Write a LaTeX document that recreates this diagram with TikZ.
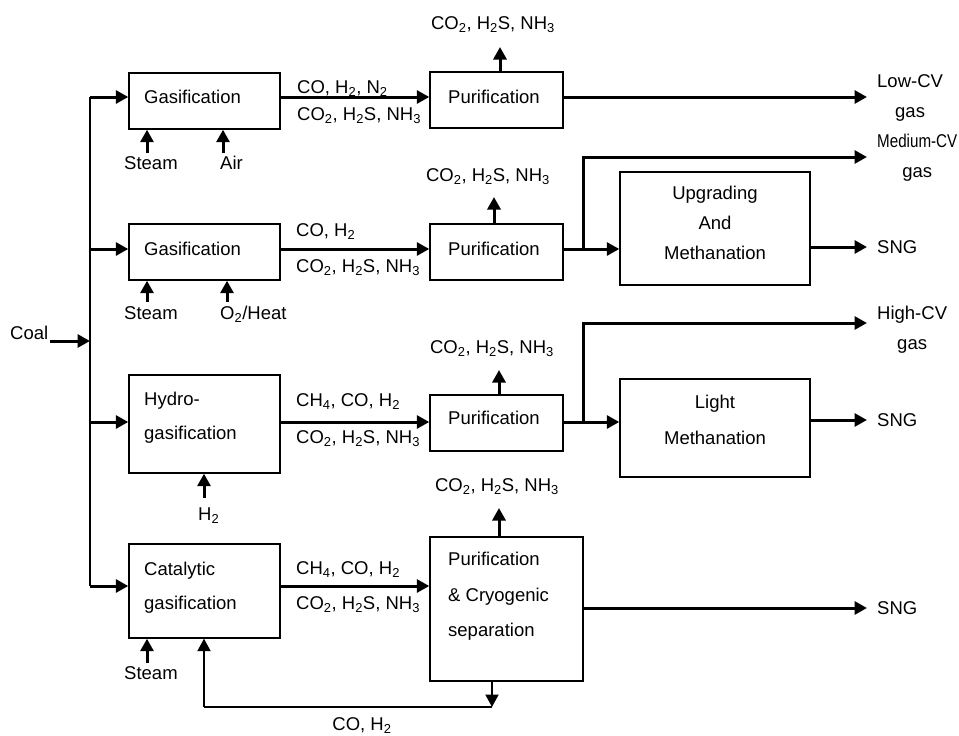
\documentclass[tikz,border=0pt]{standalone}
\usepackage{fontspec}
\setmainfont{Liberation Sans}
\usetikzlibrary{arrows.meta}
\newcommand{\gsub}[1]{\textsubscript{#1}}
\tikzset{
  box/.style={draw,line width=1.4pt,inner sep=0pt},
  txt/.style={inner sep=0pt,font=\fontsize{18.5}{30}\selectfont},
  outl/.style={txt,inner xsep=10pt,align=center},
  flow/.style={line width=3pt,-{Triangle[length=12.5pt,width=13pt]}},
  feed/.style={line width=1.5pt},
}
\begin{document}
\begin{tikzpicture}[x=1pt,y=-1pt,line join=miter]
  \useasboundingbox (0,0) rectangle (959,736);
  % process units
  \node[box,minimum width=151pt,minimum height=56pt] (gasA) at (204.5,101) {};
  \node[box,minimum width=151pt,minimum height=56pt] (gasB) at (204.5,252) {};
  \node[box,minimum width=151pt,minimum height=98pt] (hydG) at (204.5,424) {};
  \node[box,minimum width=151pt,minimum height=94pt] (catG) at (204.5,591) {};
  \node[box,minimum width=133pt,minimum height=56pt] (purA) at (496.5,100) {};
  \node[box,minimum width=133pt,minimum height=56pt] (purB) at (496.5,252) {};
  \node[box,minimum width=133pt,minimum height=56pt] (purC) at (496.5,423) {};
  \node[box,minimum width=153pt,minimum height=144pt] (purD) at (506.5,609) {};
  \node[box,minimum width=190pt,minimum height=113pt] (upg) at (715,228.5) {};
  \node[box,minimum width=190pt,minimum height=98pt] (light) at (715,428) {};
  % unit texts
  \node[txt,anchor=north west] at (144,90.3) {Gasification};
  \node[txt,anchor=north west] at (144,242.3) {Gasification};
  \node[txt,anchor=north west,align=left] at (144,392.3) {Hydro-\\[4pt]gasification};
  \node[txt,anchor=north west,align=left] at (144,562.3) {Catalytic\\[4pt]gasification};
  \node[txt,anchor=north west] at (448,90.3) {Purification};
  \node[txt,anchor=north west] at (448,242.3) {Purification};
  \node[txt,anchor=north west] at (448,411.3) {Purification};
  \node[txt,anchor=north west,align=left] at (448,552.3) {Purification\\[5.5pt]\& Cryogenic\\[5.5pt]separation};
  \node[txt,anchor=north,align=center] at (715,186.3) {Upgrading\\And\\Methanation};
  \node[txt,anchor=north,align=center] at (715,395.3) {Light\\[6pt]Methanation};
  % coal feed
  \coordinate (hub) at (90,341);
  \coordinate (tA) at (90,97);
  \coordinate (tB) at (90,249);
  \coordinate (tC) at (90,422);
  \coordinate (tD) at (90,586);
  \node[txt,inner xsep=2pt,anchor=north west] (coal) at (8,326.3) {Coal};
  \draw[flow] (hub -| coal.east) -- (hub);
  \draw[feed] (tA) -- (tD);
  \draw[flow] (tA) -- (tA -| gasA.west);
  \draw[flow] (tB) -- (tB -| gasB.west);
  \draw[flow] (tC) -- (tC -| hydG.west);
  \draw[flow] (tD) -- (tD -| catG.west);
  % gasifier inputs
  \coordinate (sA) at (147,153);
  \coordinate (aA) at (223,153);
  \coordinate (sB) at (147,302);
  \coordinate (xB) at (227,302);
  \coordinate (hG) at (204,498);
  \coordinate (sD) at (147,663);
  \draw[flow] (sA) -- (sA |- gasA.south);
  \draw[flow] (aA) -- (aA |- gasA.south);
  \draw[flow] (sB) -- (sB |- gasB.south);
  \draw[flow] (xB) -- (xB |- gasB.south);
  \draw[flow] (hG) -- (hG |- hydG.south);
  \draw[flow] (sD) -- (sD |- catG.south);
  \node[txt,anchor=north west] at (124,156.3) {Steam};
  \node[txt,anchor=north west] at (220,156.3) {Air};
  \node[txt,anchor=north west] at (124,306.3) {Steam};
  \node[txt,anchor=north west] at (220,306.3) {O\gsub{2}/Heat};
  \node[txt,anchor=north west] at (198,507.3) {H\gsub{2}};
  \node[txt,anchor=north west] at (124,666.3) {Steam};
  % raw gas streams
  \draw[flow] (tA -| gasA.east) -- (tA -| purA.west);
  \draw[flow] (tB -| gasB.east) -- (tB -| purB.west);
  \draw[flow] (tC -| hydG.east) -- (tC -| purC.west);
  \draw[flow] (tD -| catG.east) -- (tD -| purD.west);
  \node[txt,anchor=north west] at (297,80.3) {CO, H\gsub{2}, N\gsub{2}};
  \node[txt,anchor=north west] at (297,107.3) {CO\gsub{2}, H\gsub{2}S, NH\gsub{3}};
  \node[txt,anchor=north west] at (296,223.3) {CO, H\gsub{2}};
  \node[txt,anchor=north west] at (296,259.3) {CO\gsub{2}, H\gsub{2}S, NH\gsub{3}};
  \node[txt,anchor=north west] at (296,393.3) {CH\gsub{4}, CO, H\gsub{2}};
  \node[txt,anchor=north west] at (296,430.3) {CO\gsub{2}, H\gsub{2}S, NH\gsub{3}};
  \node[txt,anchor=north west] at (296,561.3) {CH\gsub{4}, CO, H\gsub{2}};
  \node[txt,anchor=north west] at (296,596.3) {CO\gsub{2}, H\gsub{2}S, NH\gsub{3}};
  % acid gas off-takes
  \coordinate (oA) at (500,47);
  \coordinate (oB) at (494,197);
  \coordinate (oC) at (499,370);
  \coordinate (oD) at (499,508);
  \draw[flow] (oA |- purA.north) -- (oA);
  \draw[flow] (oB |- purB.north) -- (oB);
  \draw[flow] (oC |- purC.north) -- (oC);
  \draw[flow] (oD |- purD.north) -- (oD);
  \node[txt,anchor=north] at (493,16.3) {CO\gsub{2}, H\gsub{2}S, NH\gsub{3}};
  \node[txt,anchor=north] at (488,168.3) {CO\gsub{2}, H\gsub{2}S, NH\gsub{3}};
  \node[txt,anchor=north] at (492,340.3) {CO\gsub{2}, H\gsub{2}S, NH\gsub{3}};
  \node[txt,anchor=north] at (497,478.3) {CO\gsub{2}, H\gsub{2}S, NH\gsub{3}};
  % products
  \node[outl,anchor=north west] (low) at (867,74.3) {Low-CV\\gas};
  \node[outl,anchor=north west] (medium) at (867,134.3) {\scalebox{0.82}[1]{Medium-CV}\\gas};
  \node[outl,anchor=north west] (high) at (867,306.3) {High-CV\\gas};
  \node[outl,anchor=west] (sngB) at (867,247) {SNG};
  \node[outl,anchor=west] (sngC) at (867,420) {SNG};
  \node[outl,anchor=west] (sngD) at (867,608) {SNG};
  \coordinate (jB) at (583,249);
  \coordinate (jC) at (583,422);
  \coordinate (mB) at (583,157);
  \coordinate (hC) at (583,323);
  \draw[flow] (tA -| purA.east) -- (tA -| low.west);
  \draw[flow] (tB -| purB.east) -- (tB -| upg.west);
  \draw[flow] (jB) |- (mB -| medium.west);
  \draw[flow] (upg.east |- sngB.west) -- (sngB.west);
  \draw[flow] (tC -| purC.east) -- (tC -| light.west);
  \draw[flow] (jC) |- (hC -| high.west);
  \draw[flow] (light.east |- sngC.west) -- (sngC.west);
  \draw[flow] (purD.east |- sngD.west) -- (sngD.west);
  % recycle
  \coordinate (rD) at (492,707);
  \coordinate (rA) at (204,707);
  \draw[flow,line width=2pt] (rD |- purD.south) -- (rD);
  \draw[feed] (rD) -- (rA);
  \draw[flow,line width=2pt] (rA) -- (rA |- catG.south);
  \node[txt,anchor=north] at (362,717.3) {CO, H\gsub{2}};
\end{tikzpicture}
\end{document}
